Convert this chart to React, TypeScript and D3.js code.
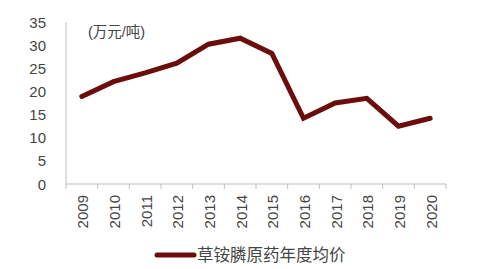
import React from "react";
import * as d3 from "d3";

const years = ["2009","2010","2011","2012","2013","2014","2015","2016","2017","2018","2019","2020"];
const prices = [18.9, 22.1, 24.0, 26.1, 30.2, 31.5, 28.2, 14.2, 17.5, 18.5, 12.5, 14.2];
const yTicks = [0, 5, 10, 15, 20, 25, 30, 35];
const seriesName = "草铵膦原药年度均价";
const unitLabel = "(万元/吨)";

const W = 500, H = 269;
const left = 66, right = 446, top = 22, bottom = 184;
const lineColor = "#6b0d0d";
const axisColor = "#bfbfbf";
const textColor = "#454545";
const font = "'Liberation Sans', 'Noto Sans CJK SC', sans-serif";

export default function App() {
  const x = d3.scaleBand<string>().domain(years).range([left, right]);
  const y = d3.scaleLinear().domain([0, 35]).range([bottom, top]);
  const line = d3.line<number>()
    .x((_, i) => (x(years[i]) as number) + x.bandwidth() / 2)
    .y((d) => y(d));
  const boundaries = years.map((yr) => x(yr) as number).concat([right]);
  return (
    <svg width={W} height={H} style={{ position: "absolute", left: 0, top: 0, background: "#fff" }}>
      <line x1={left} x2={left} y1={top} y2={bottom} stroke={axisColor} strokeWidth={1} />
      <line x1={left} x2={right} y1={bottom} y2={bottom} stroke={axisColor} strokeWidth={1} />
      {boundaries.map((bx, i) => (
        <line key={i} x1={bx} x2={bx} y1={bottom} y2={bottom + 5} stroke={axisColor} strokeWidth={1} />
      ))}
      {yTicks.map((t) => (
        <text key={t} x={46} y={y(t)} textAnchor="end" dominantBaseline="central"
          fontFamily={font} fontSize={15} fill={textColor}>{t}</text>
      ))}
      {years.map((yr) => {
        const cx = (x(yr) as number) + x.bandwidth() / 2;
        return (
          <text key={yr} transform={`translate(${cx + 1},${bottom + 11}) rotate(-90)`}
            textAnchor="end" dominantBaseline="central"
            fontFamily={font} fontSize={15} fill={textColor}>{yr}</text>
        );
      })}
      <text x={88} y={32} dominantBaseline="central" fontFamily={font} fontSize={14.5} fill={textColor}>{unitLabel}</text>
      <path d={line(prices) || ""} fill="none" stroke={lineColor} strokeWidth={5} strokeLinejoin="miter" strokeLinecap="round" />
      <line x1={157} x2={194} y1={255} y2={255} stroke={lineColor} strokeWidth={5} strokeLinecap="round" />
      <text x={197} y={255} dominantBaseline="central" fontFamily={font} fontSize={16.5} fill={textColor}>{seriesName}</text>
    </svg>
  );
}
